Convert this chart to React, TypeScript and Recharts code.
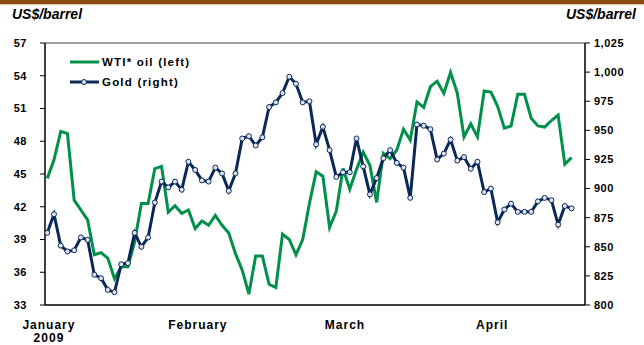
import React from 'react';
import { LineChart, Line, XAxis, YAxis, Legend, ReferenceLine } from 'recharts';

// WTI crude, US$/barrel (left axis), one value per trading day
const oil = [
  44.6, 46.3, 48.9, 48.7, 42.6, 41.7, 40.8, 37.6, 37.8, 37.3,
  35.4, 36.5, 36.5, 38.8, 42.3, 42.3, 45.5, 45.7, 41.5, 42.1,
  41.4, 41.7, 40.0, 40.7, 40.3, 41.2, 40.3, 39.6, 37.7, 36.2,
  34.0, 37.5, 37.5, 34.9, 34.6, 39.5, 39.0, 37.6, 39.0, 42.3,
  45.2, 44.8, 40.1, 41.6, 45.5, 43.6, 45.4, 47.0, 45.8, 42.4,
  46.9, 46.4, 47.2, 49.1, 48.1, 51.6, 51.1, 53.0, 53.5, 52.4,
  54.3, 52.4, 48.4, 49.6, 48.4, 52.6, 52.5, 51.2, 49.2, 49.4,
  52.3, 52.3, 50.1, 49.4, 49.3, 49.9, 50.4, 45.9, 46.5,
];

// Gold, US$/oz (right axis)
const gold = [
  862, 878, 851, 846, 847, 858, 856, 826, 823, 813,
  811, 835, 836, 862, 850, 858, 888, 906, 901, 906,
  899, 923, 916, 907, 906, 918, 913, 898, 913, 943,
  945, 937, 944, 970, 974, 982, 996, 990, 974, 975,
  938, 953, 933, 910, 914, 914, 943, 919, 895, 909,
  926, 933, 922, 918, 892, 955, 954, 951, 925, 930,
  942, 924, 927, 917, 923, 897, 900, 871, 882, 887,
  880, 880, 880, 889, 892, 890, 869, 885, 883,
];

const monthLabels = ['January', 'February', 'March', 'April'];
const monthTicks = [0.25, 22.4, 44.3, 66.2];
const oilTicks = [33, 36, 39, 42, 45, 48, 51, 54, 57];
const goldTicks = [800, 825, 850, 875, 900, 925, 950, 975, 1000, 1025];
const seriesOrder = ['oil', 'gold'];

const data = oil.map((v, i) => ({ i, oil: v, gold: gold[i] }));

const FONT = '"Liberation Sans", Arial, sans-serif';
const GREEN = '#00904a';
const NAVY = '#0b2858';

const MonthTick = (props: any) => {
  const { x, y, payload } = props;
  const idx = monthTicks.indexOf(payload.value);
  return (
    <text x={x} y={y} textAnchor="middle" fill="#000" fontFamily={FONT} fontSize={12} fontWeight={700} letterSpacing={1}>
      <tspan x={x} dy={22}>{monthLabels[idx]}</tspan>
      {idx === 0 && <tspan x={x} dy={13}>2009</tspan>}
    </text>
  );
};

const renderLegend = (props: any) => {
  const items = [...props.payload].sort(
    (a: any, b: any) => seriesOrder.indexOf(a.dataKey) - seriesOrder.indexOf(b.dataKey)
  );
  return (
    <div style={{ fontFamily: FONT, fontWeight: 700, fontSize: 11.5, letterSpacing: 1.2, color: '#000' }}>
      {items.map((entry: any) => (
        <div key={entry.value} style={{ display: 'flex', alignItems: 'center', height: 20 }}>
          <svg width={32} height={20}>
            <line x1={0} y1={10} x2={29} y2={10} stroke={entry.color} strokeWidth={3} />
            {entry.dataKey === 'gold' && <circle cx={14} cy={10} r={2.5} fill="#dde4ee" stroke={NAVY} strokeWidth={1} />}
          </svg>
          <span>{entry.value}</span>
        </div>
      ))}
    </div>
  );
};

export default function App() {
  const tickStyle = { fill: '#000', fontSize: 11, fontWeight: 700, fontFamily: FONT, letterSpacing: 0.5 };
  return (
    <div style={{ position: 'absolute', left: 0, top: 0, width: 644, height: 345, background: '#fff' }}>
      <div style={{ position: 'absolute', left: 0, top: 0, width: 644, height: 4, background: '#8a4a0e', borderBottom: '1px solid #e2c9a6' }} />
      <div style={{ position: 'absolute', left: 12, top: 6, fontFamily: FONT, fontSize: 14, fontWeight: 700, fontStyle: 'italic' }}>US$/barrel</div>
      <div style={{ position: 'absolute', right: 8, top: 6, fontFamily: FONT, fontSize: 14, fontWeight: 700, fontStyle: 'italic' }}>US$/barrel</div>
      <LineChart
        width={644}
        height={345}
        data={data}
        margin={{ top: 43, right: 10, bottom: 10, left: 10 }}
        style={{ position: 'absolute', left: 0, top: 0 }}
      >
        <XAxis
          dataKey="i"
          type="number"
          domain={[-0.34, 80]}
          ticks={monthTicks}
          tick={<MonthTick />}
          tickLine={false}
          tickSize={0}
          height={30}
          axisLine={{ stroke: '#000', strokeWidth: 1.5 }}
          interval={0}
        />
        <YAxis
          yAxisId="left"
          domain={[33, 57]}
          ticks={oilTicks}
          width={35}
          tickSize={5}
          tickMargin={13}
          axisLine={{ stroke: '#000', strokeWidth: 1.5 }}
          tickLine={{ stroke: '#000' }}
          tick={tickStyle}
          interval={0}
        />
        <YAxis
          yAxisId="right"
          orientation="right"
          domain={[800, 1025]}
          ticks={goldTicks}
          width={49}
          tickSize={5}
          tickMargin={4}
          axisLine={{ stroke: '#000', strokeWidth: 1.5 }}
          tickLine={{ stroke: '#000' }}
          tick={tickStyle}
          tickFormatter={(v: number) => v.toLocaleString('en-US')}
          interval={0}
        />
        <ReferenceLine yAxisId="left" y={57} stroke="#808080" strokeWidth={1.5} />
        <Legend
          layout="vertical"
          align="center"
          verticalAlign="middle"
          content={renderLegend}
          wrapperStyle={{ left: 70, top: 52, width: 'auto' }}
        />
        <Line
          yAxisId="left"
          dataKey="oil"
          name="WTI* oil (left)"
          type="linear"
          stroke={GREEN}
          strokeWidth={3}
          dot={false}
          isAnimationActive={false}
        />
        <Line
          yAxisId="right"
          dataKey="gold"
          name="Gold (right)"
          type="linear"
          stroke={NAVY}
          strokeWidth={3}
          dot={{ r: 2.5, fill: '#dde4ee', stroke: NAVY, strokeWidth: 1 }}
          isAnimationActive={false}
        />
      </LineChart>
    </div>
  );
}
